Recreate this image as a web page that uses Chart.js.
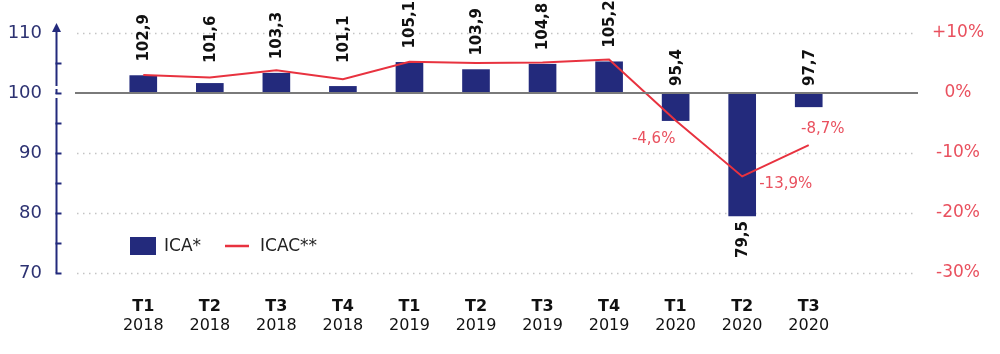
<!DOCTYPE html>
<html>
<head>
<meta charset="utf-8">
<script src="https://cdn.jsdelivr.net/npm/chart.js@4.4.1/dist/chart.umd.min.js"></script>
<style>
  html, body { margin: 0; padding: 0; background: #fff; }
</style>
</head>
<body>
<canvas id="chart" width="1000" height="354"></canvas>
<script>
// --- data ---
const quarters = ['T1', 'T2', 'T3', 'T4', 'T1', 'T2', 'T3', 'T4', 'T1', 'T2', 'T3'];
const years = ['2018', '2018', '2018', '2018', '2019', '2019', '2019', '2019', '2020', '2020', '2020'];
const icaValues = [102.9, 101.6, 103.3, 101.1, 105.1, 103.9, 104.8, 105.2, 95.4, 79.5, 97.7];
const icacValues = [3.0, 2.6, 3.8, 2.3, 5.2, 5.0, 5.1, 5.6, -4.6, -13.9, -8.7];
const leftTicks = [70, 80, 90, 100, 110];
const rightTicks = [-30, -20, -10, 0, 10];

const NAVY = '#232a7c';
const RED = '#e8323f';
const PINK = '#e9505e';
const FONT = "'DejaVu Sans', sans-serif";

const fmt = v => v.toFixed(1).replace('.', ',');

// tick padding is used to place labels only, not to shrink the plot
function fixSize(prop, size) {
    return s => {
        s[prop] = size;
        s.paddingTop = 0; s.paddingBottom = 0; s.paddingLeft = 0; s.paddingRight = 0;
    };
}

// gridlines, axis with arrow, baseline, labels, legend
const decor = {
    id: 'decor',
    beforeDatasetsDraw(chart) {
        const c = chart.ctx; const y = chart.scales.y;
        c.save();
        c.strokeStyle = '#c4c4c4'; c.lineWidth = 1.5; c.setLineDash([1.5, 4.5]);
        leftTicks.forEach(t => {
            if (t === 100) return;
            const py = Math.round(y.getPixelForValue(t)) + 0.5;
            c.beginPath(); c.moveTo(77, py); c.lineTo(917, py); c.stroke();
        });
        c.setLineDash([]);
        // left axis
        const ax = 56.5;
        c.strokeStyle = NAVY; c.fillStyle = NAVY; c.lineWidth = 2;
        const p100 = y.getPixelForValue(100);
        c.beginPath();
        c.moveTo(ax, 30); c.lineTo(ax, p100 - 7);
        c.moveTo(ax, p100 - 4); c.lineTo(ax, p100 + 1);
        c.moveTo(ax, p100 + 5); c.lineTo(ax, y.getPixelForValue(70));
        c.stroke();
        for (let v = 70; v <= 105; v += 5) {
            const py = Math.round(y.getPixelForValue(v)) + 0.5;
            c.beginPath(); c.moveTo(ax - 1, py); c.lineTo(ax + 5, py); c.stroke();
        }
        c.beginPath(); c.moveTo(ax, 23); c.lineTo(ax - 4.5, 32); c.lineTo(ax + 4.5, 32); c.closePath(); c.fill();
        c.restore();
    },
    afterDatasetsDraw(chart) {
        const c = chart.ctx; const y = chart.scales.y;
        c.save();
        const p100 = y.getPixelForValue(100);
        c.strokeStyle = '#7a7a7a'; c.lineWidth = 2;
        c.beginPath(); c.moveTo(75, p100); c.lineTo(918, p100); c.stroke();

        // bar value labels (rotated)
        const bars = chart.getDatasetMeta(0).data;
        c.fillStyle = '#111'; c.font = 'bold 15px ' + FONT; c.textBaseline = 'middle';
        bars.forEach((el, i) => {
            const v = icaValues[i];
            c.save();
            c.translate(el.x + 1, 0);
            c.rotate(-Math.PI / 2);
            if (v >= 100) {
                const bottom = Math.min(el.y - 14, y.getPixelForValue(105));
                c.textAlign = 'left'; c.fillText(fmt(v), -bottom, 0);
            } else if (v > 90) {
                c.textAlign = 'left'; c.fillText(fmt(v), -(p100 - 7), 0);
            } else {
                c.textAlign = 'right'; c.fillText(fmt(v), -(el.y + 5), 0);
            }
            c.restore();
        });

        // line labels for negative points
        const nudge = { 8: [-22, 19, 'center'], 9: [17, 8, 'left'], 10: [14, -16, 'center'] };
        const pts = chart.getDatasetMeta(1).data;
        c.fillStyle = PINK; c.font = '15px ' + FONT;
        pts.forEach((el, i) => {
            const v = icacValues[i];
            if (v >= 0) return;
            const n = nudge[i] || [0, 14, 'center'];
            c.textAlign = n[2];
            c.fillText(fmt(v) + '%', el.x + n[0], el.y + n[1]);
        });
        c.restore();
    },
    afterDraw(chart) {
        // legend inside plot
        const c = chart.ctx; const ds = chart.data.datasets;
        c.save();
        c.fillStyle = ds[0].backgroundColor; c.fillRect(130, 237, 26, 18);
        c.fillStyle = '#222'; c.font = '17px ' + FONT; c.textBaseline = 'middle'; c.textAlign = 'left';
        c.fillText(ds[0].label, 164, 247);
        c.strokeStyle = ds[1].borderColor; c.lineWidth = 2.5;
        c.beginPath(); c.moveTo(225, 246); c.lineTo(249, 246); c.stroke();
        c.fillText(ds[1].label, 260, 247);
        c.restore();
    }
};

new Chart(document.getElementById('chart'), {
    data: {
        labels: quarters,
        datasets: [
            { type: 'bar', label: 'ICA*', data: icaValues, base: 100, backgroundColor: NAVY, barThickness: 27, yAxisID: 'y', xAxisID: 'x', order: 2 },
            { type: 'line', label: 'ICAC**', data: icacValues, borderColor: RED, borderWidth: 2, pointRadius: 0, tension: 0, yAxisID: 'y2', xAxisID: 'x', order: 1 }
        ]
    },
    options: {
        responsive: false, animation: false,
        layout: { padding: { top: 33, bottom: 0, left: 0, right: 0 } },
        plugins: { legend: { display: false }, tooltip: { enabled: false } },
        scales: {
            x: {
                type: 'category', position: 'bottom', offset: true,
                grid: { display: false, drawTicks: false }, border: { display: false },
                ticks: { color: '#111', font: { family: FONT, size: 16, weight: 'bold' }, padding: 24, autoSkip: false, maxRotation: 0 },
                afterFit: fixSize('height', 43)
            },
            x2: {
                type: 'category', position: 'bottom', offset: true, labels: years,
                grid: { display: false, drawTicks: false }, border: { display: false },
                ticks: { color: '#111', font: { family: FONT, size: 16 }, padding: 0, autoSkip: false, maxRotation: 0 },
                afterFit: fixSize('height', 38)
            },
            y: {
                position: 'left', min: 70, max: 110,
                afterBuildTicks(s) { s.ticks = leftTicks.map(v => ({ value: v })); },
                grid: { display: false, drawTicks: false }, border: { display: false },
                ticks: { color: '#2d3272', font: { family: FONT, size: 18 }, padding: 68 },
                afterFit: fixSize('width', 110)
            },
            y2: {
                position: 'right', min: -30, max: 10,
                afterBuildTicks(s) { s.ticks = rightTicks.map(v => ({ value: v })); },
                grid: { display: false, drawTicks: false }, border: { display: false },
                ticks: {
                    color: PINK, font: { family: FONT, size: 17 }, padding: 90, crossAlign: 'center',
                    callback: v => (v > 0 ? '+' : '') + v + '%'
                },
                afterFit: fixSize('width', 158)
            }
        }
    },
    plugins: [decor]
});
</script>
</body>
</html>
